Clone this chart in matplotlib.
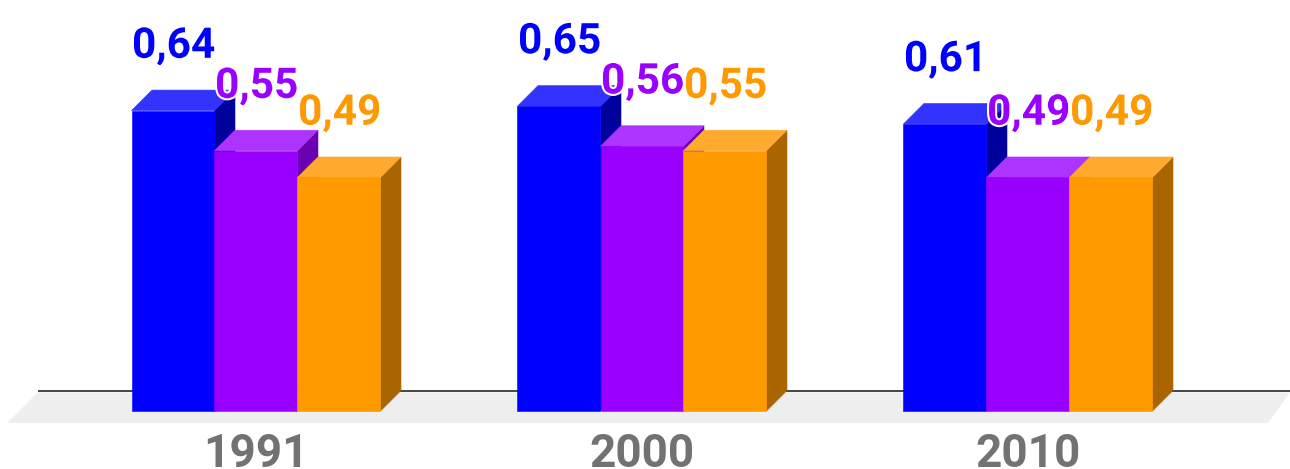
import matplotlib
matplotlib.use("Agg")
import matplotlib.pyplot as plt
import matplotlib.patheffects as pe
from matplotlib.patches import Polygon

# Dati
anni = ["1991", "2000", "2010"]
serie_blu = [0.64, 0.65, 0.61]
serie_viola = [0.55, 0.56, 0.49]
serie_arancio = [0.49, 0.55, 0.49]

# (fronte, tetto, lato)
colori_blu = ("#0000ff", "#3333ff", "#00009c")
colori_viola = ("#9900ff", "#ad33ff", "#6a00b0")
colori_arancio = ("#ff9900", "#ffa92e", "#a86500")

# scale of the picture: pixels per x unit / per value
px_x = 386
px_y = 446
base = -0.0336
larghezza = 83.0 / px_x
dx = 20.5 / px_x
dy = 20.5 / px_y

plt.rcParams["font.family"] = ["Roboto", "DejaVu Sans"]

fig = plt.figure(figsize=(12.9, 4.69), dpi=100)
ax = fig.add_axes([0, 0, 1, 1])
ax.set_xlim(-256 / px_x, 1034 / px_x)
ax.set_ylim(base - 58 / px_y, base + 411 / px_y)
ax.axis("off")

# Pavimento e linea di base
x_sx = -218 / px_x
x_dx = 1034 / px_x
ax.add_patch(Polygon([(x_sx, base + dy - 2 / px_y), (x_dx, base + dy - 2 / px_y),
                      (x_dx - 22 / px_x, base - 12 / px_y),
                      (x_sx - 31 / px_x, base - 12 / px_y)],
                     closed=True, color="#eeeeee", lw=0, zorder=1))
ax.plot([x_sx, x_dx], [base + dy, base + dy], color="#444444", lw=1.4, zorder=2,
        solid_capstyle="butt")

# Barre 3D
z = 3
for i, (valori, colori) in enumerate([(serie_blu, colori_blu),
                                      (serie_viola, colori_viola),
                                      (serie_arancio, colori_arancio)]):
    for k, v in enumerate(valori):
        x0 = k + (i - 1.5) * larghezza
        x1 = x0 + larghezza
        ax.add_patch(Polygon([(x1, base), (x1 + dx, base + dy), (x1 + dx, v + dy), (x1, v)],
                             closed=True, facecolor=colori[2], edgecolor=colori[2],
                             lw=0.4, zorder=z))
        ax.add_patch(Polygon([(x0, v), (x1, v), (x1 + dx, v + dy), (x0 + dx, v + dy)],
                             closed=True, facecolor=colori[1], edgecolor=colori[1],
                             lw=0.4, zorder=z))
        ax.bar(x0, v - base, width=larghezza, bottom=base, align="edge",
               color=colori[0], edgecolor=colori[0], lw=0.4, zorder=z + 0.5)
        ax.annotate(f"{v:.2f}".replace(".", ","), (x0 + larghezza / 2, v),
                    xytext=(0.5, 38), textcoords="offset points", ha="center", va="baseline",
                    fontsize=30.5, fontweight="bold", color=colori[0], zorder=20,
                    path_effects=[pe.withStroke(linewidth=3, foreground="white")])
    z += 1

# Etichette anni
for k, anno in enumerate(anni):
    ax.annotate(anno, (k, base), xytext=(0, -40), textcoords="offset points",
                ha="center", va="baseline", fontsize=33, fontweight="bold",
                color="#727272", zorder=20)

fig.savefig("out.png", dpi=100)
